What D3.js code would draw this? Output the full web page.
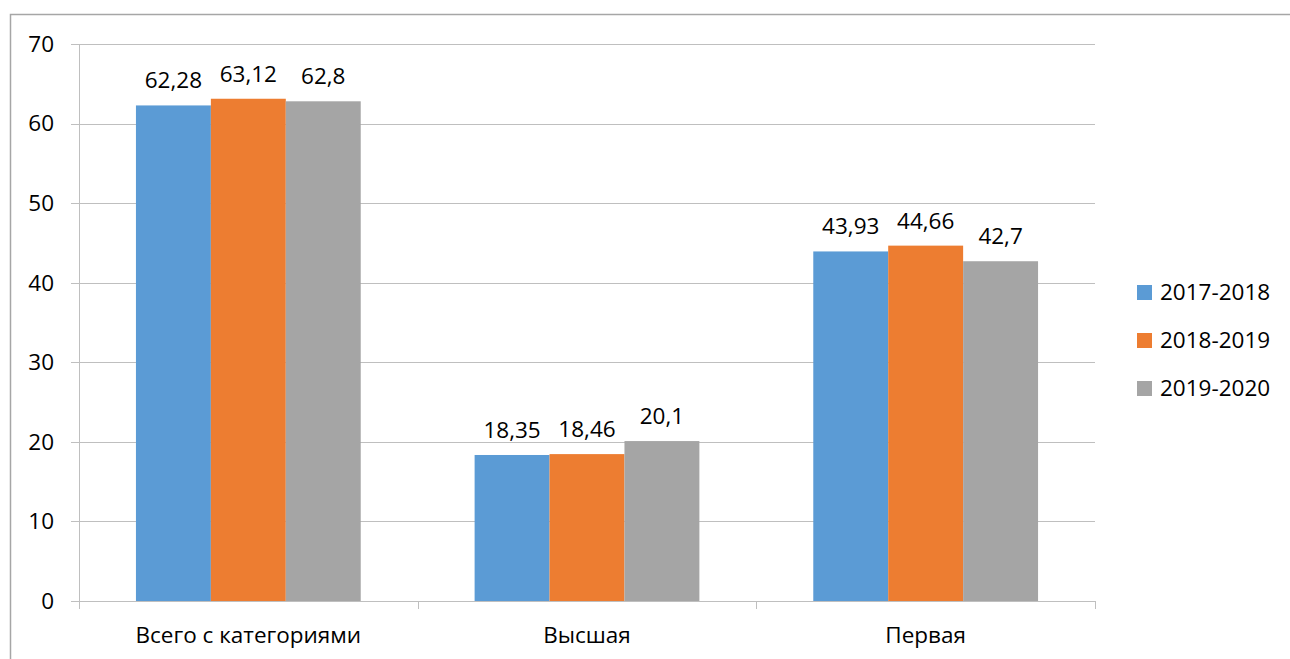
<!DOCTYPE html>
<html><head><meta charset="utf-8">
<script src="https://cdn.jsdelivr.net/npm/d3@7"></script>
<style>html,body{margin:0;padding:0;background:#fff;}svg{display:block;font-family:"Open Sans","Noto Sans",sans-serif;}</style>
</head><body>
<svg id="c" width="1290" height="659"></svg>
<script>
const categories = ["Всего с категориями", "Высшая", "Первая"];
const seriesNames = ["2017-2018", "2018-2019", "2019-2020"];
const s2017 = [62.28, 18.35, 43.93];
const s2018 = [63.12, 18.46, 44.66];
const s2019 = [62.8, 20.1, 42.7];
const yTicks = [0, 10, 20, 30, 40, 50, 60, 70];
const colors = ["#5B9BD5", "#ED7D31", "#A5A5A5"];

(function () {
const series = [s2017, s2018, s2019];
const svg = d3.select("#c");
const FS = 22.5;
// frame
svg.append("rect").attr("x", 10.5).attr("y", 14.5).attr("width", 1300).attr("height", 700)
  .attr("fill", "none").attr("stroke", "#a6a6a6").attr("stroke-width", 1.5);

const pL = 79, pR = 1095, pT = 44, pB = 601;
const y = d3.scaleLinear().domain([0, 70]).range([pB, pT]);
const x0 = d3.scaleBand().domain(categories).range([pL, pR]).paddingInner(0).paddingOuter(0);
const x1 = d3.scaleBand().domain(seriesNames).range([0, x0.bandwidth()]).paddingInner(0).paddingOuter(0.76);

// gridlines
svg.append("g").selectAll("line").data(yTicks).join("line")
  .attr("x1", pL - 8).attr("x2", pR).attr("y1", d => Math.round(y(d)) + 0.5).attr("y2", d => Math.round(y(d)) + 0.5)
  .attr("stroke", "#bfbfbf").attr("stroke-width", 1);
// y axis line
svg.append("line").attr("x1", pL + 0.5).attr("x2", pL + 0.5).attr("y1", pT).attr("y2", pB + 8)
  .attr("stroke", "#bfbfbf");
// category ticks
const bounds = [pL, ...categories.map(c => x0(c) + x0.bandwidth())];
svg.append("g").selectAll("line").data(bounds).join("line")
  .attr("x1", d => Math.round(d) + 0.5).attr("x2", d => Math.round(d) + 0.5).attr("y1", pB).attr("y2", pB + 8)
  .attr("stroke", "#bfbfbf");

// y tick labels
svg.append("g").selectAll("text").data(yTicks).join("text")
  .attr("x", 54).attr("y", d => y(d)).attr("dy", "0.35em").attr("text-anchor", "end")
  .attr("font-size", FS).attr("fill", "#000").text(d => d);

// bars
const g = svg.append("g");
categories.forEach((c, i) => {
  series.forEach((s, j) => {
    const bx = x0(c) + x1(seriesNames[j]);
    g.append("rect").attr("x", bx).attr("y", y(s[i])).attr("width", x1.bandwidth()).attr("height", y(0) - y(s[i]))
      .attr("fill", colors[j]);
    g.append("text").attr("x", bx + x1.bandwidth() / 2).attr("y", y(s[i]) - 17)
      .attr("text-anchor", "middle").attr("font-size", FS).attr("fill", "#000")
      .text(String(s[i]).replace(".", ","));
  });
});

// category labels
svg.append("g").selectAll("text").data(categories).join("text")
  .attr("x", d => x0(d) + x0.bandwidth() / 2).attr("y", 643).attr("text-anchor", "middle")
  .attr("font-size", FS).attr("fill", "#000").text(d => d);

// legend
const lg = svg.append("g");
seriesNames.forEach((n, j) => {
  const ly = 292 + j * 48;
  lg.append("rect").attr("x", 1137).attr("y", ly - 7).attr("width", 15).attr("height", 15).attr("fill", colors[j]);
  lg.append("text").attr("x", 1160).attr("y", ly).attr("dy", "0.35em").attr("font-size", FS).attr("fill", "#000").text(n);
});
})();
</script>
</body></html>
